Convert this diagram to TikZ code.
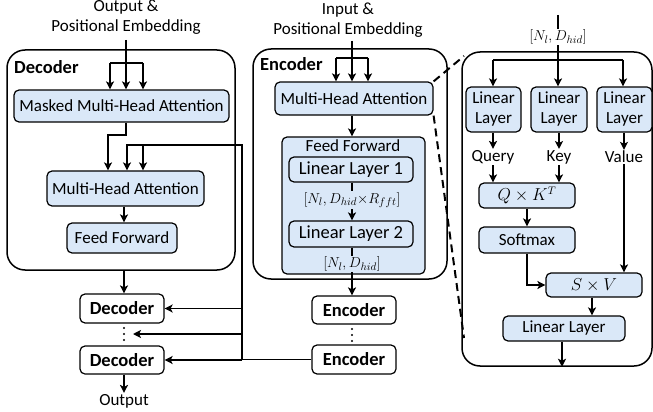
\documentclass[tikz,border=0pt]{standalone}
\usepackage{fontspec}
\setmainfont{Carlito}
\usetikzlibrary{arrows.meta}
\definecolor{boxblue}{RGB}{218,232,248}
\begin{document}
\begin{tikzpicture}[x=1pt,y=-1pt,
  txt/.style={font=\fontsize{17}{20}\selectfont, inner sep=1pt},
  box/.style={draw, line width=1.2pt, rounded corners=5pt, fill=boxblue, inner sep=0pt, font=\fontsize{17}{20}\selectfont, align=center},
  wbox/.style={draw, line width=1.2pt, rounded corners=5pt, fill=white, inner sep=0pt, font=\bfseries\fontsize{18.5}{20}\selectfont},
  outer/.style={draw, line width=1.5pt, rounded corners=18pt, inner sep=0pt},
  arr/.style={line width=1.8pt, -{Stealth[length=8pt,width=8pt,inset=2pt]}},
  ln/.style={line width=1.8pt},
  dim/.style={font=\fontsize{15}{17}\selectfont, inner sep=1pt},
  dsh/.style={line width=2pt, dash pattern=on 8pt off 5pt},
  lbl/.style={font=\bfseries\fontsize{18.5}{20}\selectfont, inner sep=0pt, anchor=west},
  dotc/.style={circle, fill=black, inner sep=0pt, minimum size=2.2pt}
]
\useasboundingbox (0,0) rectangle (653,412);

% ---------------- Decoder ----------------
\node[txt, align=center] (dembed) at (126,17) {Output \&\\Positional Embedding};
\node[outer, minimum width=228pt, minimum height=220pt] (decout) at (121,160) {};
\node[lbl] (declbl) at (14,67) {Decoder};
\node[box, minimum width=215pt, minimum height=32pt] (mmha) at (121.5,106) {Masked Multi-Head Attention};
\node[box, minimum width=157pt, minimum height=35pt] (dmha) at (125.5,188.5) {Multi-Head Attention};
\node[box, minimum width=110pt, minimum height=30pt] (dff) at (122,238) {Feed Forward};
\node[wbox, minimum width=84pt, minimum height=29pt] (dec1) at (122,308.5) {Decoder};
\foreach \y/\n in {328/a,334/b,340/c} \node[dotc] (dd\n) at (124,\y) {};
\node[wbox, minimum width=84pt, minimum height=28pt] (dec2) at (122,360) {Decoder};
\node[txt] (dout) at (124,401) {Output};

\coordinate (dtop) at (126,40);
\coordinate (dbar) at (126,63);
\draw[ln] (dtop) -- (dbar);
\draw[ln] (110,63) -- (143,63);
\foreach \x in {110,126,143} \draw[arr] (\x,63) -- (\x,0 |- mmha.north);
\draw[arr] (126,0 |- mmha.south) -- (126,135) -- (108,135) -- (108,0 |- dmha.north);
\draw[arr] (124,0 |- dmha.south) -- (124,0 |- dff.north);
\draw[arr] (124,0 |- decout.south) -- (124,0 |- dec1.north);
\draw[arr] (124,0 |- dec2.south) -- (124,0 |- dout.north);

% ---------------- Encoder ----------------
\node[txt, align=center] (eembed) at (348,20) {Input \&\\Positional Embedding};
\node[outer, minimum width=194pt, minimum height=230pt] (encout) at (350,164) {};
\node[lbl] (enclbl) at (260,64) {Encoder};
\node[box, minimum width=158pt, minimum height=33pt] (emha) at (354,98.5) {Multi-Head Attention};
\node[box, minimum width=143pt, minimum height=137pt] (ffbig) at (353.5,205.5) {};
\node[txt] (fftxt) at (353,146) {Feed Forward};
\node[box, minimum width=124pt, minimum height=25pt, font=\fontsize{18.5}{20}\selectfont] (ll1) at (351,169.5) {Linear Layer 1};
\node[box, minimum width=124pt, minimum height=26pt, font=\fontsize{18.5}{20}\selectfont] (ll2) at (351,234) {Linear Layer 2};
\node[wbox, minimum width=84pt, minimum height=28pt] (enc1) at (354,310) {Encoder};
\foreach \y/\n in {329/a,335/b,341/c} \node[dotc] (ed\n) at (352,\y) {};
\node[wbox, minimum width=84pt, minimum height=29pt] (enc2) at (354,359.5) {Encoder};

\draw[ln] (352,41) -- (352,58);
\draw[ln] (336,58) -- (368,58);
\foreach \x in {336,352,368} \draw[arr] (\x,58) -- (\x,0 |- emha.north);
\draw[arr] (352,0 |- emha.south) -- (352,0 |- ffbig.north);
\draw[arr] (352,0 |- ll1.south) -- (352,0 |- ll2.north);
\node[dim, fill=boxblue] (d1) at (352,200) {$[N_l, D_{hid}{\times}R_{fft}]$};
\draw[arr] (352,0 |- ll2.south) -- (352,0 |- enc1.north);
\node[dim, fill=boxblue] (d2) at (352,264) {$[N_l, D_{hid}]$};

% encoder -> decoder
\draw[arr] (enc2.west) -- (242,0 |- enc2.west) -- (242,145) -- (127,145) -- (127,0 |- dmha.north);
\draw[arr] (143,145) -- (143,0 |- dmha.north);
\draw[arr] (242,0 |- dec1.east) -- (dec1.east);
\draw[arr] (242,334) -- (133,334);
\draw[arr] (242,0 |- dec2.east) -- (dec2.east);

% ---------------- Attention detail ----------------
\node[outer, minimum width=190pt, minimum height=314pt] (det) at (557,209) {};
\node[box, minimum width=55pt, minimum height=45pt] (lla) at (493.5,109.5) {Linear\\Layer};
\node[box, minimum width=56pt, minimum height=45pt] (llb) at (559,109.5) {Linear\\Layer};
\node[box, minimum width=55pt, minimum height=45pt] (llc) at (624.5,109.5) {Linear\\Layer};
\node[txt] (q) at (493,157) {Query};
\node[txt] (k) at (559,157) {Key};
\node[txt] (v) at (624,157) {Value};
\node[box, minimum width=96pt, minimum height=25pt, font=\fontsize{16}{18}\selectfont] (qk) at (527,195.5) {$Q \times K^T$};
\node[box, minimum width=96pt, minimum height=26pt] (sm) at (527,240) {Softmax};
\node[box, minimum width=96pt, minimum height=24pt, font=\fontsize{16}{18}\selectfont] (sv) at (594,285) {$S \times V$};
\node[box, minimum width=122pt, minimum height=25pt] (llo) at (564,328.5) {Linear Layer};

\coordinate (atop) at (558,15);
\draw[arr] (atop) -- (558,0 |- llb.north);
\node[dim, fill=white] (d3) at (558,37) {$[N_l, D_{hid}]$};
\draw[ln] (493,60) -- (623,60);
\draw[arr] (493,60) -- (493,0 |- lla.north);
\draw[arr] (623,60) -- (623,0 |- llc.north);
\draw[arr] (493,0 |- lla.south) -- (q.north);
\draw[arr] (559,0 |- llb.south) -- (k.north);
\draw[arr] (624,0 |- llc.south) -- (v.north);
\draw[arr] (q.south) -- (493,0 |- qk.north);
\draw[arr] (k.south) -- (559,0 |- qk.north);
\draw[arr] (527,0 |- qk.south) -- (527,0 |- sm.north);
\draw[arr] (527,0 |- sm.south) |- (sv.west);
\draw[arr] (v.south) -- (624,0 |- sv.north);
\draw[arr] (592,0 |- sv.south) -- (592,0 |- llo.north);
\draw[arr] (562,0 |- llo.south) -- (562,0 |- det.south);

% dashed zoom lines
\draw[dsh] (emha.north east) -- (464,56);
\draw[dsh] (emha.south east) -- (464,338);
\end{tikzpicture}
\end{document}
